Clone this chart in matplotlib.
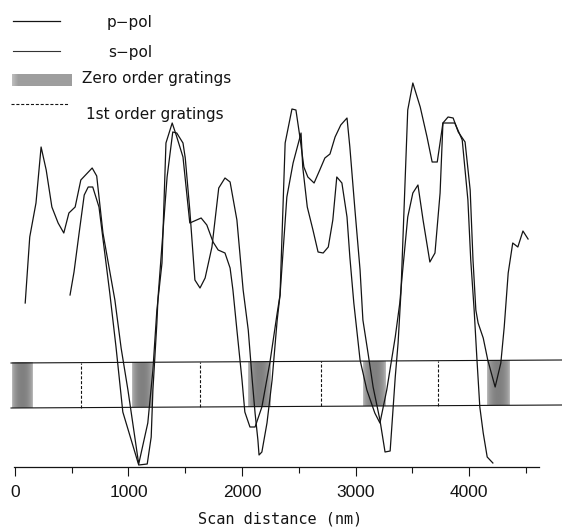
import numpy as np
import matplotlib
matplotlib.use('Agg')
import matplotlib.pyplot as plt

plt.rcParams['lines.scale_dashes'] = False

# ---------------- data (x in nm, y in arbitrary units) ----------------
p_pol_x = [90, 130, 185, 230, 275, 325, 380, 430, 475, 530, 580, 680, 720, 775, 880, 935,
           995, 1090, 1170, 1215, 1250, 1295, 1330, 1385, 1420, 1480, 1540, 1640, 1690,
           1745, 1790, 1850, 1895, 1920, 1955, 2000, 2025, 2070, 2115, 2175, 2245, 2310,
           2335, 2380, 2440, 2475, 2510, 2545, 2580, 2635, 2685, 2730, 2775, 2820, 2870,
           2925, 2950, 2995, 3040, 3065, 3110, 3155, 3215, 3260, 3305, 3330, 3350, 3375,
           3400, 3460, 3505, 3570, 3630, 3675, 3720, 3770, 3815, 3860, 3905, 3965, 4010,
           4035, 4060, 4080, 4125, 4165, 4230, 4280, 4310, 4345, 4385, 4430, 4475, 4520]
p_pol_y = [164, 230, 264, 320, 297, 260, 244, 234, 254, 260, 287, 299, 291, 234, 167, 119,
           77, 3, 44, 97, 157, 204, 324, 344, 332, 310, 244, 249, 242,
           225, 217, 214, 199, 177, 137, 87, 55, 40, 40, 60, 104, 154,
           172, 324, 358, 357, 330, 300, 290, 284, 297, 309, 313, 330, 342,
           349, 320, 257, 197, 147, 114, 80, 47, 15, 16, 57, 90, 124,
           174, 357, 384, 360, 330, 305, 305, 344, 350, 349, 335, 325, 277,
           207, 157, 144, 129, 107, 80, 104, 140, 194, 224, 220, 236, 228]

s_pol_x = [485, 520, 565, 610, 645, 685, 740, 835, 890, 950, 1090, 1165, 1200, 1215, 1250,
           1260, 1340, 1390, 1425, 1480, 1500, 1540, 1585, 1630, 1675, 1735, 1795, 1850,
           1895, 1955, 2010, 2055, 2090, 2115, 2140, 2150, 2175, 2220, 2265, 2310, 2335,
           2395, 2450, 2520, 2535, 2575, 2625, 2670, 2715, 2760, 2800, 2835, 2880, 2925,
           2950, 2985, 3040, 3100, 3170, 3215, 3275, 3350, 3390, 3410, 3460, 3505, 3550,
           3595, 3655, 3700, 3745, 3770, 3875, 3940, 3990, 4015, 4045, 4070, 4095, 4125,
           4160, 4210]
s_pol_y = [172, 195, 234, 272, 280, 280, 260, 174, 120, 55, 2, 3, 30, 77, 144,
           169, 290, 335, 334, 324, 309, 257, 187, 179, 189, 220, 279, 289,
           285, 247, 177, 137, 87, 54, 27, 12, 15, 44, 87, 147, 172,
           270, 304, 334, 300, 260, 237, 215, 214, 220, 247, 290, 284, 250,
           210, 164, 107, 77, 54, 44, 77, 130, 164, 190, 250, 274, 282,
           247, 205, 214, 274, 344, 344, 327, 267, 207, 157, 107, 60, 34,
           10, 4]

zero_order_start = [-30, 1030, 2055, 3065, 4160]
zero_order_end = [150, 1215, 2255, 3265, 4355]
first_order_x = [585, 1630, 2695, 3730]
band_x = [-35, 4820]
band_top = [104, 107]
band_bottom = [59, 62]

xticks_major = [0, 1000, 2000, 3000, 4000]
xticks_minor = [500, 1500, 2500, 3500, 4500]
legend_labels = ['p\u2212pol', 's\u2212pol', 'Zero order gratings', '1st order gratings']
x_label = 'Scan distance (nm)'

# ---------------- figure ----------------
W, H = 562, 527
fig = plt.figure(figsize=(W / 100, H / 100), dpi=100)
ax = fig.add_axes([0, 60 / H, 1, 467 / H])

ink = '#141414'

# band
ax.plot(band_x, band_top, color=ink, lw=0.8, zorder=3)
ax.plot(band_x, band_bottom, color=ink, lw=0.8, zorder=3)

# zero-order zones (shaded)
for s, e in zip(zero_order_start, zero_order_end):
    c = 0.5 * (s + e)
    top = np.interp(c, band_x, band_top)
    bot = np.interp(c, band_x, band_bottom)
    t = np.linspace(0, 1, 60)
    grad = 0.76 - 0.26 * np.sin(np.pi * t) ** 0.5
    ax.imshow(grad[np.newaxis, :], extent=[s, e, bot, top], cmap='gray',
              vmin=0, vmax=1, aspect='auto', interpolation='bilinear', zorder=1)

# first-order dashed lines
for x in first_order_x:
    top = np.interp(x, band_x, band_top)
    bot = np.interp(x, band_x, band_bottom)
    ax.plot([x, x], [bot, top], color=ink, lw=0.8, dashes=(2.2, 1.3), zorder=3)

# curves
ax.plot(p_pol_x, p_pol_y, color=ink, lw=0.9, zorder=4)
ax.plot(s_pol_x, s_pol_y, color=ink, lw=0.9, zorder=4)

ax.set_xlim(-132, 4819)
ax.set_ylim(0, 467)

for sp in ['top', 'left', 'right']:
    ax.spines[sp].set_visible(False)
ax.spines['bottom'].set_bounds(-9, 4616)
ax.spines['bottom'].set_linewidth(0.9)
ax.spines['bottom'].set_color(ink)
ax.set_yticks([])
ax.set_xticks(xticks_major)
ax.set_xticks(xticks_minor, minor=True)
ax.tick_params(axis='x', which='major', length=6.5, width=0.8, direction='out',
               pad=6.5, colors=ink)
ax.tick_params(axis='x', which='minor', length=4.3, width=0.8, direction='out', colors=ink)
ax.set_xticklabels([str(v) for v in xticks_major],
                   fontfamily=['Liberation Sans', 'DejaVu Sans'], fontsize=12.5)

ax.set_xlabel(x_label, fontfamily='DejaVu Sans Mono', fontsize=11, color=ink)
ax.xaxis.set_label_coords(0.499, -52 / 467)
ax.xaxis.label.set_va('center')
ax.patch.set_visible(False)

# ---------------- legend (pixel-space overlay) ----------------
lax = fig.add_axes([0, 0, 1, 1])
lax.set_xlim(0, W)
lax.set_ylim(H, 0)
lax.axis('off')

lax.plot([13, 60], [20.5, 20.5], color=ink, lw=0.9)
lax.plot([13, 60], [51, 51], color='#333333', lw=0.8)
t = np.linspace(0, 1, 60)
lgrad = 0.62 + 0.12 * (1 - np.minimum(t / 0.1, 1))
lax.imshow(lgrad[np.newaxis, :], extent=[12, 72, 86, 74], cmap='gray', vmin=0, vmax=1,
           aspect='auto', interpolation='bilinear')
lax.plot([11, 69], [104, 104], color=ink, lw=0.8, dashes=(2.2, 1.3))
lax.set_xlim(0, W)
lax.set_ylim(H, 0)

tx = dict(fontsize=11, color=ink, va='baseline', ha='left', family='DejaVu Sans')
lax.text(107, 27.5, legend_labels[0], **tx)
lax.text(108, 56.5, legend_labels[1], **tx)
lax.text(82, 82.5, legend_labels[2], **tx)
lax.text(86, 119, legend_labels[3], **tx)

fig.savefig('out.png', dpi=100)
